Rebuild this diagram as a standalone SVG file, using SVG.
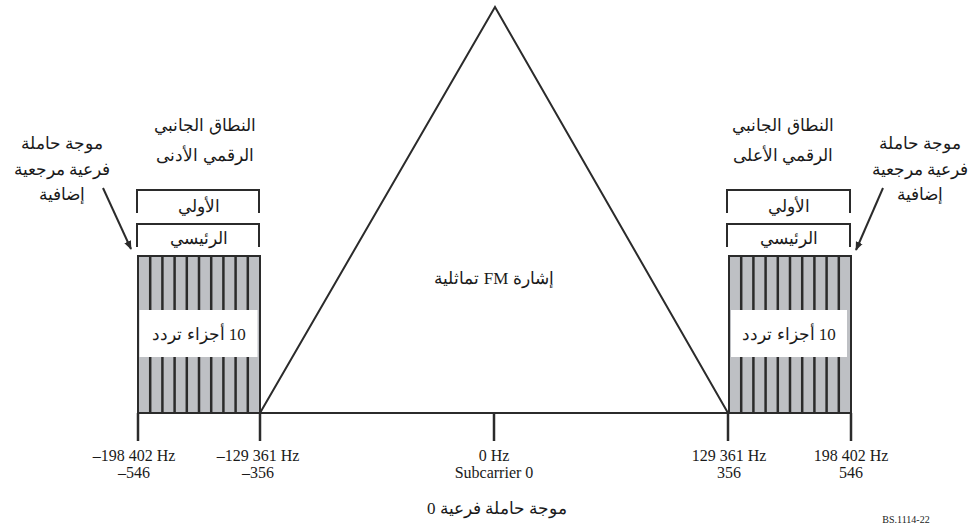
<svg xmlns="http://www.w3.org/2000/svg" width="970" height="525" viewBox="0 0 970 525">
  <defs>
    <style>
      .ln { stroke: #2b2b2b; stroke-width: 2; fill: none; }
      .tick { stroke: #2b2b2b; stroke-width: 2.5; }
      .band { fill: #bec0c4; stroke: #2b2b2b; stroke-width: 2; }
      .stripe { stroke: #2b2b2b; stroke-width: 2.5; }
      .lbl { fill: #fff; stroke: none; }
      .t { font-family: "Liberation Serif", "DejaVu Serif", serif; fill: #1a1a1a; text-anchor: middle; }
      .ar { font-size: 17px; direction: rtl; unicode-bidi: embed; }
      .num { font-size: 16px; }
    </style>
    <marker id="arr" viewBox="0 0 10 10" refX="9" refY="5" markerWidth="9" markerHeight="9" markerUnits="userSpaceOnUse" orient="auto">
      <path d="M0,1 L10,5 L0,9 Z" fill="#2b2b2b"/>
    </marker>
  </defs>

  <!-- frequency axis and ticks -->
  <g id="axis">
    <line class="ln" x1="138" y1="413" x2="851" y2="413"/>
    <line class="tick" x1="138" y1="413" x2="138" y2="441"/>
    <line class="tick" x1="260" y1="413" x2="260" y2="441"/>
    <line class="tick" x1="494" y1="413" x2="494" y2="441"/>
    <line class="tick" x1="728" y1="413" x2="728" y2="441"/>
    <line class="tick" x1="851" y1="413" x2="851" y2="441"/>
  </g>

  <!-- analog FM signal -->
  <g id="fm-signal">
    <polyline class="ln" points="260,413 495,7 728,413"/>
    <text class="t ar" x="494" y="284">إشارة FM تماثلية</text>
  </g>

  <!-- lower digital sideband -->
  <g id="lower-sideband">
    <rect class="band" x="138" y="256" width="122" height="157"/>
    <g>
      <line class="stripe" x1="150.2" y1="256" x2="150.2" y2="413"/>
      <line class="stripe" x1="162.4" y1="256" x2="162.4" y2="413"/>
      <line class="stripe" x1="174.6" y1="256" x2="174.6" y2="413"/>
      <line class="stripe" x1="186.8" y1="256" x2="186.8" y2="413"/>
      <line class="stripe" x1="199" y1="256" x2="199" y2="413"/>
      <line class="stripe" x1="211.2" y1="256" x2="211.2" y2="413"/>
      <line class="stripe" x1="223.4" y1="256" x2="223.4" y2="413"/>
      <line class="stripe" x1="235.6" y1="256" x2="235.6" y2="413"/>
      <line class="stripe" x1="247.8" y1="256" x2="247.8" y2="413"/>
    </g>
    <rect class="lbl" x="139.5" y="310" width="118" height="47"/>
    <text class="t ar" x="199" y="340">10 أجزاء تردد</text>
    <polyline class="ln" points="137,213 137,190 259,190 259,213"/>
    <text class="t ar" x="199" y="212">الأولي</text>
    <polyline class="ln" points="137,247 137,224 259,224 259,247"/>
    <text class="t ar" x="199" y="244">الرئيسي</text>
    <text class="t ar" x="205" y="131">النطاق الجانبي</text>
    <text class="t ar" x="205" y="161">الرقمي الأدنى</text>
  </g>

  <!-- upper digital sideband -->
  <g id="upper-sideband">
    <rect class="band" x="729" y="256" width="122" height="157"/>
    <g>
      <line class="stripe" x1="741.2" y1="256" x2="741.2" y2="413"/>
      <line class="stripe" x1="753.4" y1="256" x2="753.4" y2="413"/>
      <line class="stripe" x1="765.6" y1="256" x2="765.6" y2="413"/>
      <line class="stripe" x1="777.8" y1="256" x2="777.8" y2="413"/>
      <line class="stripe" x1="790" y1="256" x2="790" y2="413"/>
      <line class="stripe" x1="802.2" y1="256" x2="802.2" y2="413"/>
      <line class="stripe" x1="814.4" y1="256" x2="814.4" y2="413"/>
      <line class="stripe" x1="826.6" y1="256" x2="826.6" y2="413"/>
      <line class="stripe" x1="838.8" y1="256" x2="838.8" y2="413"/>
    </g>
    <rect class="lbl" x="731" y="310" width="116" height="47"/>
    <text class="t ar" x="789" y="340">10 أجزاء تردد</text>
    <polyline class="ln" points="727,213 727,190 850,190 850,213"/>
    <text class="t ar" x="789" y="212">الأولي</text>
    <polyline class="ln" points="727,247 727,224 850,224 850,247"/>
    <text class="t ar" x="789" y="244">الرئيسي</text>
    <text class="t ar" x="783" y="131">النطاق الجانبي</text>
    <text class="t ar" x="783" y="161">الرقمي الأعلى</text>
  </g>

  <!-- additional reference subcarrier callouts -->
  <g id="ref-left">
    <text class="t ar" x="62" y="149">موجة حاملة</text>
    <text class="t ar" x="62" y="175">فرعية مرجعية</text>
    <text class="t ar" x="62" y="200">إضافية</text>
  </g>
  <g id="ref-right">
    <text class="t ar" x="920" y="149">موجة حاملة</text>
    <text class="t ar" x="920" y="175">فرعية مرجعية</text>
    <text class="t ar" x="920" y="200">إضافية</text>
  </g>

  <g id="connectors">
    <line class="ln" stroke-width="1.2" x1="103" y1="188" x2="131" y2="249" marker-end="url(#arr)"/>
    <line class="ln" stroke-width="1.2" x1="883" y1="188" x2="856" y2="250" marker-end="url(#arr)"/>
  </g>

  <!-- axis labels -->
  <g id="labels">
    <text class="t num" x="134" y="461">–198 402 Hz</text>
    <text class="t num" x="134" y="478">–546</text>
    <text class="t num" x="258" y="461">–129 361 Hz</text>
    <text class="t num" x="258" y="478">–356</text>
    <text class="t num" x="494" y="461">0 Hz</text>
    <text class="t num" x="494" y="478">Subcarrier 0</text>
    <text class="t ar" x="497" y="514" font-size="19">موجة حاملة فرعية 0</text>
    <text class="t num" x="729" y="461">129 361 Hz</text>
    <text class="t num" x="729" y="478">356</text>
    <text class="t num" x="851" y="461">198 402 Hz</text>
    <text class="t num" x="851" y="478">546</text>
    <text class="t" x="906" y="523" font-size="10" fill="#444">BS.1114-22</text>
  </g>
</svg>
